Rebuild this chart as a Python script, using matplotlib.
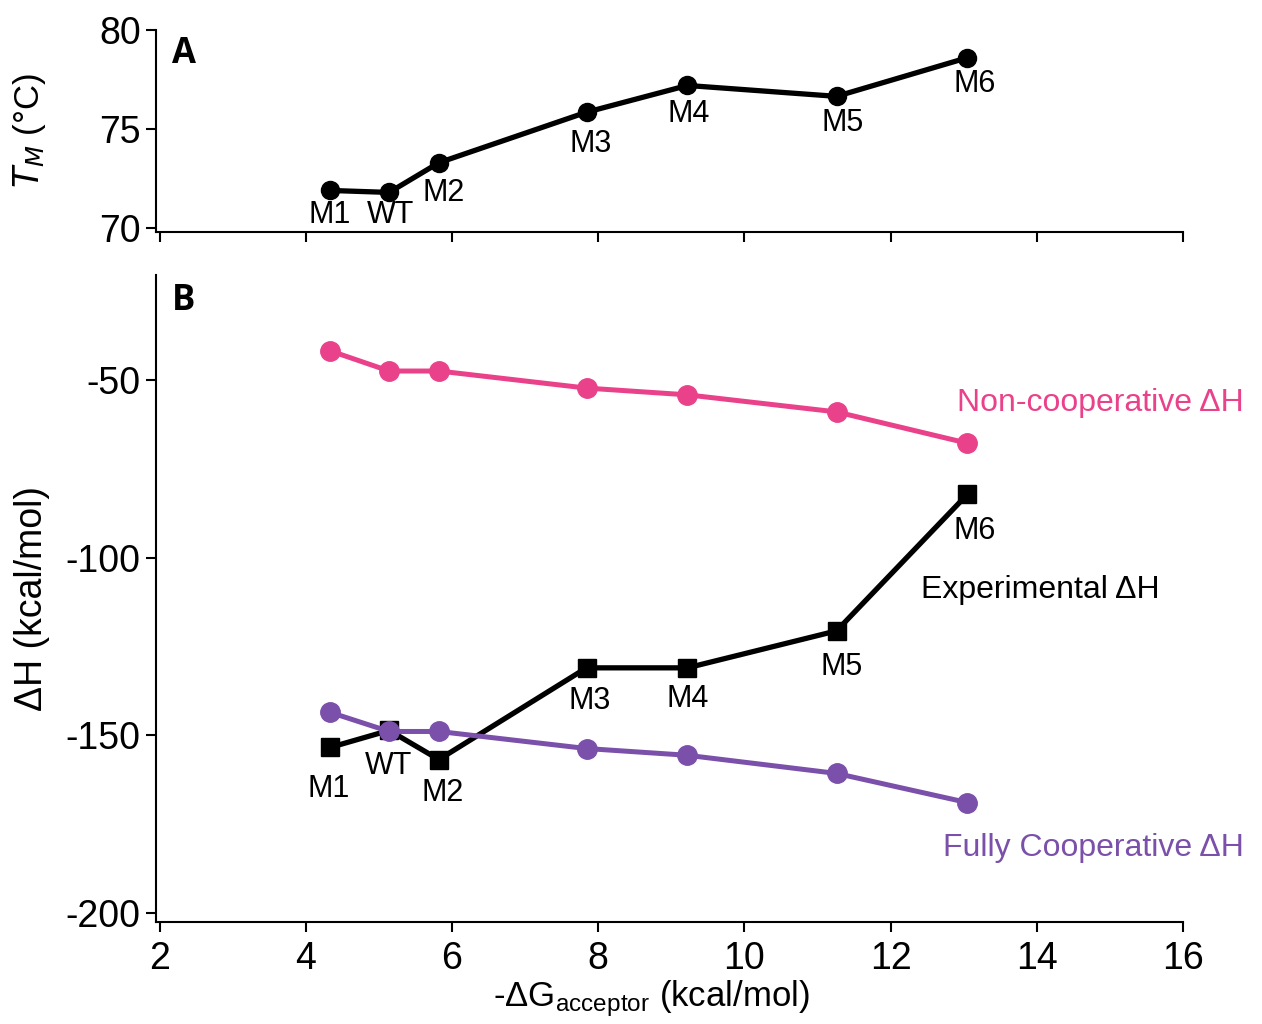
import matplotlib
matplotlib.use("Agg")
import matplotlib.pyplot as plt

# data
mutants = ["M1", "WT", "M2", "M3", "M4", "M5", "M6"]
dg_acceptor = [4.33, 5.14, 5.82, 7.84, 9.22, 11.26, 13.05]
tm = [71.9, 71.8, 73.3, 75.85, 77.2, 76.65, 78.6]
dh_noncoop = [-41.8, -47.5, -47.5, -52.3, -54.2, -59.0, -67.8]
dh_exp = [-153.4, -148.6, -156.8, -131.0, -131.0, -120.6, -82.2]
dh_coop = [-143.5, -148.9, -148.9, -153.7, -155.6, -160.7, -168.9]

# label offsets in pixels (dx, dy) relative to the points
tm_offsets = [(0, -25), (1, -23), (5, -30), (4, -32), (1, -29), (6, -27), (7, -26)]
dh_offsets = [(-1, -42), (-1, -36), (4, -33), (3, -33), (0, -31), (5, -36), (7, -37)]

pink = "#e9428b"
purple = "#7a50aa"

plt.rcParams['font.family'] = ['Liberation Sans', 'DejaVu Sans']
plt.rcParams['mathtext.default'] = 'regular'
plt.rcParams['axes.unicode_minus'] = False

fig = plt.figure(figsize=(12.62, 10.24), dpi=100)
ax_a = fig.add_axes([0.1236, 0.7734, 0.8138, 0.1973])
ax_b = fig.add_axes([0.1236, 0.0996, 0.8138, 0.6318])

for ax in (ax_a, ax_b):
    ax.spines['top'].set_visible(False)
    ax.spines['right'].set_visible(False)
    ax.spines['left'].set_linewidth(1.5)
    ax.spines['bottom'].set_linewidth(1.5)
    ax.tick_params(direction='out', length=7, width=1.5, labelsize=27, pad=4)
    ax.tick_params(axis='x', pad=7)
    ax.set_xlim(1.95, 16)
    ax.set_xticks(range(2, 17, 2))

# panel A - melting temperature
ax_a.plot(dg_acceptor, tm, color='black', lw=3.8, marker='o', ms=13, zorder=3)
for name, x, y, off in zip(mutants, dg_acceptor, tm, tm_offsets):
    ax_a.annotate(name, (x, y), xytext=off, textcoords='offset pixels',
                  ha='center', va='center', fontsize=22)
ax_a.set_ylim(69.8, 80)
ax_a.set_yticks([70, 75, 80])
ax_a.tick_params(axis='x', labelbottom=False)
ax_a.spines['left'].set_bounds(69.8, 80)
ax_a.set_ylabel(r'$\mathit{T}_{\mathit{M}}$ (°C)', fontsize=25)
ax_a.yaxis.set_label_coords(-0.105, 0.5)
ax_a.text(0.0156, 0.88, "A", transform=ax_a.transAxes, fontsize=25,
          fontweight='bold', family='Open Sans', ha='left', va='center')

# panel B - enthalpies
ax_b.plot(dg_acceptor, dh_noncoop, color=pink, lw=3.6, marker='o', ms=14, zorder=2)
ax_b.plot(dg_acceptor, dh_exp, color='black', lw=3.8, marker='s', ms=13, zorder=3)
ax_b.plot(dg_acceptor, dh_coop, color=purple, lw=3.6, marker='o', ms=14, zorder=4)
for name, x, y, off in zip(mutants, dg_acceptor, dh_exp, dh_offsets):
    ax_b.annotate(name, (x, y), xytext=off, textcoords='offset pixels',
                  ha='center', va='center', fontsize=22)

ax_b.text(16.83, -56.5, "Non-cooperative ΔH", color=pink, fontsize=23,
          ha='right', va='center', clip_on=False)
ax_b.text(12.42, -109, "Experimental ΔH", color='black', fontsize=23,
          ha='left', va='center', clip_on=False)
ax_b.text(16.83, -181.6, "Fully Cooperative ΔH", color=purple, fontsize=23,
          ha='right', va='center', clip_on=False)

ax_b.set_ylim(-202.5, -20.5)
ax_b.set_yticks([-200, -150, -100, -50])
ax_b.set_ylabel("ΔH (kcal/mol)", fontsize=27)
ax_b.yaxis.set_label_coords(-0.103, 0.5)
ax_b.set_xlabel(r'-ΔG$_{acceptor}$ (kcal/mol)', fontsize=25)
ax_b.xaxis.set_label_coords(0.482, -0.087)
ax_b.text(0.0156, 0.96, "B", transform=ax_b.transAxes, fontsize=25,
          fontweight='bold', family='Open Sans', ha='left', va='center')

fig.savefig("out.png", dpi=100)
